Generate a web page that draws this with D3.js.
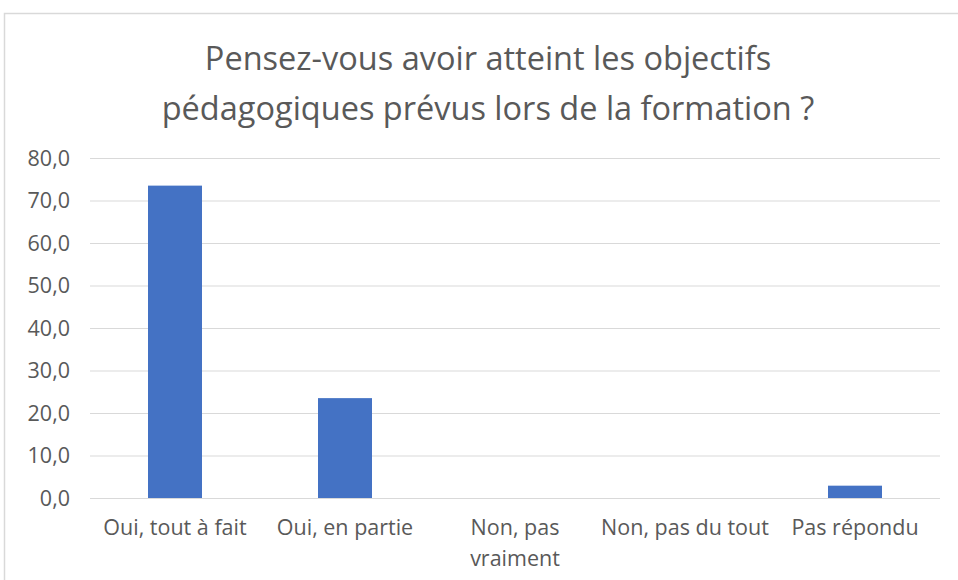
<!DOCTYPE html>
<html lang="fr">
<head>
<meta charset="UTF-8">
<title>Objectifs pédagogiques</title>
<script src="https://cdnjs.cloudflare.com/ajax/libs/d3/7.8.5/d3.min.js"></script>
<style>
  body { margin: 0; background: #fff; }
  svg text { font-family: "Open Sans", "Noto Sans", sans-serif; fill: #595959; }
</style>
</head>
<body>
<div id="chart"></div>
<script>
    // data
    var categories = ["Oui, tout à fait", "Oui, en partie", "Non, pas vraiment", "Non, pas du tout", "Pas répondu"];
    var values = [73.5, 23.5, 0, 0, 2.9];
    var ticks = [0, 10, 20, 30, 40, 50, 60, 70, 80];
    var titleLines = ["Pensez-vous avoir atteint les objectifs", "pédagogiques prévus lors de la formation ?"];

    var width = 958, height = 580;
    var margin = {top: 158, right: 18, bottom: 82, left: 90};

    var svg = d3.select("#chart").append("svg")
        .attr("width", width)
        .attr("height", height);

    // chart frame
    svg.append("rect")
        .attr("x", 4.5).attr("y", 13.5)
        .attr("width", 970).attr("height", 600)
        .attr("fill", "#fff")
        .attr("stroke", "#d9d9d9")
        .attr("stroke-width", 1.5);

    var x = d3.scaleBand()
        .domain(categories)
        .range([margin.left, width - margin.right])
        .paddingInner(0.6824)
        .paddingOuter(0.3412);

    var y = d3.scaleLinear()
        .domain([0, 80])
        .range([height - margin.bottom, margin.top]);

    // gridlines
    svg.append("g").selectAll("line")
        .data(ticks)
        .enter().append("line")
        .attr("x1", margin.left).attr("x2", width - margin.right)
        .attr("y1", function(d){ return y(d) + 0.5; })
        .attr("y2", function(d){ return y(d) + 0.5; })
        .attr("stroke", "#d9d9d9")
        .attr("stroke-width", 1);

    // y labels
    var fmt = function(d){ return d.toFixed(1).replace(".", ","); };
    svg.append("g").selectAll("text")
        .data(ticks)
        .enter().append("text")
        .attr("x", 70)
        .attr("y", function(d){ return y(d); })
        .attr("dy", "0.36em")
        .attr("text-anchor", "end")
        .style("font-size", "21.5px")
        .text(fmt);

    // bars
    svg.append("g").selectAll("rect")
        .data(values)
        .enter().append("rect")
        .attr("x", function(d, i){ return x(categories[i]); })
        .attr("width", x.bandwidth())
        .attr("y", function(d){ return y(d); })
        .attr("height", function(d){ return y(0) - y(d); })
        .attr("fill", "#4472c4");

    // category labels, wrapped like the original
    svg.append("g").selectAll("text")
        .data(categories)
        .enter().append("text")
        .attr("x", function(d){ return x(d) + x.bandwidth() / 2; })
        .attr("y", 535)
        .attr("text-anchor", "middle")
        .style("font-size", "21.5px")
        .each(function(d){
            var t = d3.select(this);
            var lines = d === "Non, pas vraiment" ? ["Non, pas", "vraiment"] : [d];
            lines.forEach(function(l, i){
                t.append("tspan")
                    .attr("x", x(d) + x.bandwidth() / 2)
                    .attr("dy", i === 0 ? 0 : 31)
                    .text(l);
            });
        });

    // title
    svg.append("g").selectAll("text")
        .data(titleLines)
        .enter().append("text")
        .attr("x", 488)
        .attr("y", function(d, i){ return 70 + i * 50; })
        .attr("text-anchor", "middle")
        .style("font-size", "32.5px")
        .text(function(d){ return d; });
</script>
</body>
</html>
